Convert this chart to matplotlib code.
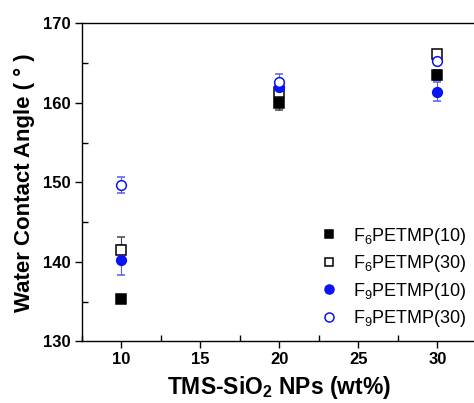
import numpy as np
import matplotlib
matplotlib.use('Agg')
import matplotlib.pyplot as plt
from matplotlib.ticker import MultipleLocator
from matplotlib.lines import Line2D

plt.rcParams['font.family'] = ['Liberation Sans', 'DejaVu Sans']
plt.rcParams['mathtext.default'] = 'regular'

# data
x = [10, 20, 30]
f6_10 = [135.3, 160.0, 163.5]
f6_10_err = [0.3, 0.9, 0.6]
f6_30 = [141.5, 161.4, 166.1]
f6_30_err = [1.6, 0.4, 0.4]
f9_10 = [140.2, 162.0, 161.4]
f9_10_err = [1.9, 0.5, 1.2]
f9_30 = [149.7, 162.6, 165.3]
f9_30_err = [1.0, 1.0, 0.4]

labels = [r'F$_6$PETMP(10)', r'F$_6$PETMP(30)', r'F$_9$PETMP(10)', r'F$_9$PETMP(30)']

fig = plt.figure(figsize=(4.74, 4.03), dpi=100)
ax = fig.add_axes([0.173, 0.153, 0.833, 0.789])

blue = '#0a14f0'
styles = [
    dict(marker='s', color='black', mfc='black', ecolor='#444444', ms=6.5),
    dict(marker='s', color='black', mfc='white', ecolor='#444444', ms=6.5),
    dict(marker='o', color=blue, mfc=blue, ecolor='#5a5af0', ms=7),
    dict(marker='o', color=blue, mfc='white', ecolor='#5a5af0', ms=7),
]
series = [(f6_10, f6_10_err), (f6_30, f6_30_err), (f9_10, f9_10_err), (f9_30, f9_30_err)]

handles = []
for (y, e), st, lab in zip(series, styles, labels):
    ax.errorbar(x, y, yerr=e, fmt=st['marker'], color=st['color'], mfc=st['mfc'], mew=1.1,
                ms=st['ms'], ecolor=st['ecolor'], elinewidth=0.8, capsize=3)
    handles.append(Line2D([], [], ls='none', marker=st['marker'], color=st['color'],
                          mfc=st['mfc'], mew=1.1, ms=st['ms'] - 0.5, label=lab))

ax.set_xlim(7.5, 32.5)
ax.set_ylim(130, 170)
ax.xaxis.set_major_locator(MultipleLocator(5))
ax.xaxis.set_minor_locator(MultipleLocator(2.5))
ax.yaxis.set_major_locator(MultipleLocator(10))
ax.yaxis.set_minor_locator(MultipleLocator(5))
ax.tick_params(which='major', direction='out', length=5, width=1, labelsize=12, pad=3)
ax.tick_params(which='minor', direction='in', length=4, width=1)
ax.spines['right'].set_visible(False)
for s in ['left', 'bottom', 'top']:
    ax.spines[s].set_linewidth(1)
for lab in ax.get_xticklabels() + ax.get_yticklabels():
    lab.set_fontweight('bold')

ax.set_xlabel(r'TMS-SiO$_2$ NPs (wt%)', fontsize=16.5, fontweight='bold', labelpad=5)
ax.set_ylabel('Water Contact Angle ( ° )', fontsize=16, fontweight='bold', labelpad=6)

fig.legend(handles=handles, loc='upper left', bbox_to_anchor=(0.675, 0.44),
           frameon=False, fontsize=13, handlelength=1.0, handletextpad=0.85,
           labelspacing=0.36, borderpad=0, borderaxespad=0)

fig.savefig('out.png', dpi=100)
